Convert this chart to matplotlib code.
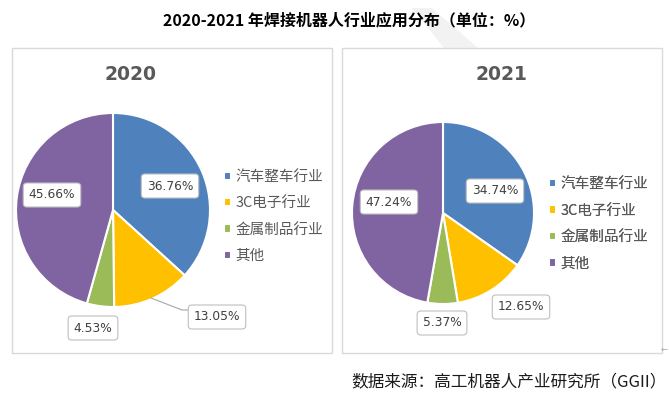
import matplotlib
matplotlib.use("Agg")
import matplotlib.pyplot as plt
from matplotlib.patches import Rectangle, Polygon

plt.rcParams['font.family'] = ['Noto Sans CJK SC', 'DejaVu Sans']

# ---- data ----
title = "2020-2021 年焊接机器人行业应用分布（单位：%）"
source = "数据来源：高工机器人产业研究所（GGII）"
categories = ["汽车整车行业", "3C电子行业", "金属制品行业", "其他"]
years = ["2020", "2021"]
values_2020 = [36.76, 13.05, 4.53, 45.66]
values_2021 = [34.74, 12.65, 5.37, 47.24]
colors = ["#4F81BD", "#FFC000", "#9BBB59", "#8064A2"]

W, H = 669, 396
fig = plt.figure(figsize=(W / 100, H / 100), dpi=100)
ax = fig.add_axes([0, 0, 1, 1])
ax.set_xlim(0, W)
ax.set_ylim(0, H)
ax.set_aspect('equal')
ax.axis('off')

def Y(y):
    return H - y

# faint watermark band above the panels
band = [(412, 8), (432, 8), (478, 48), (444, 48)]
ax.add_patch(Polygon([(x, Y(y)) for x, y in band], closed=True,
                     facecolor="#f2f2f2", edgecolor='none', zorder=0))

# layout (image pixel coords)
panels = [dict(box=(11.5, 48, 332, 353), center=(113, 210), r=97,
               title=(130, 74), legend=(224, 216.5),
               labels=[(170, 186), (217, 317), (93, 328), (52, 195)],
               leader=[(151, 298), (182, 310), (190, 310)]),
          dict(box=(341.5, 48, 662, 353), center=(443, 213), r=91,
               title=(501, 74), legend=(549, 224),
               labels=[(495, 191), (521, 307), (442, 323), (389, 202)],
               leader=None)]

for year, vals, p in zip(years, [values_2020, values_2021], panels):
    x0, y0, x1, y1 = p['box']
    ax.add_patch(Rectangle((x0, Y(y1)), x1 - x0, y1 - y0, facecolor='white',
                           edgecolor="#d9d9d9", lw=1.0, zorder=1))
    ax.text(p['title'][0], Y(p['title'][1]), year, ha='center', va='center',
            fontsize=13.5, fontweight='bold', color="#595959",
            family=['DejaVu Sans'], zorder=2)
    cx, cy = p['center']
    wedges, _ = ax.pie(vals, colors=colors, startangle=90, counterclock=False,
                       center=(cx, Y(cy)), radius=p['r'],
                       wedgeprops=dict(edgecolor='white', linewidth=1.5, zorder=2),
                       frame=True)
    if p['leader']:
        xs = [pt[0] for pt in p['leader']]
        ys = [Y(pt[1]) for pt in p['leader']]
        ax.plot(xs, ys, color="#a6a6a6", lw=0.8, zorder=3)
    for v, (lx, ly) in zip(vals, p['labels']):
        ax.text(lx, Y(ly), f"{v:.2f}%", ha='center', va='center', fontsize=8.8,
                color="#404040", family=['DejaVu Sans'], zorder=5,
                bbox=dict(boxstyle='round,pad=0.45,rounding_size=0.3',
                          fc='white', ec='#bfbfbf', lw=0.8))
    lx, ly = p['legend']
    leg = ax.legend(wedges, categories, loc='center left',
                    bbox_to_anchor=(lx, Y(ly)), bbox_transform=ax.transData,
                    frameon=False, fontsize=10.5, handlelength=0.5,
                    handleheight=0.5, handletextpad=0.3, labelspacing=0.85,
                    borderpad=0, borderaxespad=0, labelcolor="#595959")
    ax.add_artist(leg)

ax.set_xlim(0, W)
ax.set_ylim(0, H)
ax.axis('off')

fig.text(349 / W, 1 - 20 / H, title, ha='center', va='center', fontsize=11.5,
         fontweight='bold', color='black')
fig.text(509 / W, 1 - 382 / H, source, ha='center', va='center', fontsize=12,
         style='italic', color='#1a1a1a')
fig.text(664 / W, 1 - 349 / H, "←", ha='center', va='center', fontsize=6,
         color='#a6a6a6', family=['DejaVu Sans'])

fig.savefig("out.png", dpi=100)
